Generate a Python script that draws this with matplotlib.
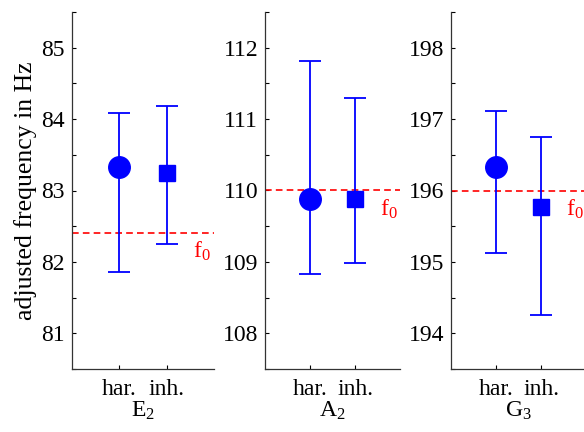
import matplotlib
matplotlib.use("Agg")
import matplotlib.pyplot as plt
from matplotlib.ticker import MultipleLocator

plt.rcParams['font.family'] = ['Liberation Serif', 'DejaVu Serif']
plt.rcParams['mathtext.fontset'] = 'custom'
plt.rcParams['mathtext.rm'] = 'Liberation Serif'
plt.rcParams['mathtext.it'] = 'Liberation Serif:italic'

# data
notes = ['E', 'A', 'G']
octaves = ['2', '2', '3']
f0 = [82.41, 110.0, 196.0]
har_mean = [83.33, 109.88, 196.33]
har_lo = [81.86, 108.83, 195.12]
har_hi = [84.09, 111.82, 197.12]
inh_mean = [83.25, 109.88, 195.77]
inh_lo = [82.25, 108.99, 194.26]
inh_hi = [84.19, 111.29, 196.75]
ylims = [(80.5, 85.5), (107.5, 112.5), (193.5, 198.5)]
tick_labels = ['har.', 'inh.']

W, H = 584, 432
fig = plt.figure(figsize=(W / 100, H / 100), dpi=100)

# axes boxes in pixels: left, right
boxes = [(72, 214), (265, 400), (451, 586)]
top_px, bot_px = 12, 369
FS = 17

for k in range(3):
    l, r = boxes[k]
    ax = fig.add_axes([l / W, (H - bot_px) / H, (r - l) / W, (bot_px - top_px) / H])
    for m, lo, hi, x, mk, ms in [(har_mean[k], har_lo[k], har_hi[k], 1, 'o', 15.5),
                                 (inh_mean[k], inh_lo[k], inh_hi[k], 2, 's', 12)]:
        ax.errorbar([x], [m], yerr=[[m - lo], [hi - m]], fmt=mk, color='b',
                    markersize=ms, elinewidth=1.3, capsize=8, capthick=1.3,
                    zorder=3)
    ax.axhline(f0[k], color='r', ls='--', lw=1.2, dashes=(4, 2.5), zorder=2, clip_on=False)
    ax.text(2.55, f0[k] - 0.1, r'f$_\mathregular{0}$', color='r', fontsize=FS,
            va='top', ha='left')
    ax.set_xlim(0, 3)
    ax.set_ylim(*ylims[k])
    ax.set_xticks([1, 2])
    ax.set_xticklabels(tick_labels)
    ax.yaxis.set_major_locator(MultipleLocator(1))
    ax.yaxis.set_minor_locator(MultipleLocator(0.5))
    ax.tick_params(direction='in', length=3, labelsize=FS, colors='k', width=0.8)
    ax.tick_params(which='minor', direction='in', length=3, width=0.8)
    ax.tick_params(axis='x', pad=7)
    ax.tick_params(axis='y', pad=5)
    ax.spines['top'].set_visible(False)
    ax.spines['right'].set_visible(False)
    for s in ['left', 'bottom']:
        ax.spines[s].set_color('#333333')
        ax.spines[s].set_linewidth(0.9)
    ax.set_xlabel(notes[k] + r'$_\mathregular{' + octaves[k] + '}$', fontsize=FS, labelpad=0)
    if k == 0:
        ax.set_ylabel('adjusted frequency in Hz', fontsize=18.5, labelpad=3)

fig.savefig('out.png', dpi=100)
